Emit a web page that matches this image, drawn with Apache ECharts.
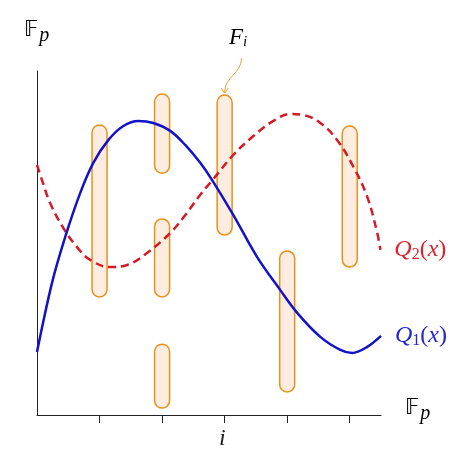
<!DOCTYPE html>
<html><head><meta charset="utf-8">
<script src="https://cdn.jsdelivr.net/npm/echarts@6/dist/echarts.min.js"></script>
<style>html,body{margin:0;padding:0;background:#fff}#c{width:465px;height:459px}</style>
</head><body><div id="c"></div>
<script>
// Q1(x) — blue solid curve
const q1X = [0,0.24,0.45,0.69,0.90,1.14,1.38,1.62,1.86,2.13,2.37,2.61,2.80,3.14,3.52,3.89,4.16,4.53,4.85,5.04,5.28,5.50];
const q1Y = [1.83,3.84,5.17,6.45,7.33,7.99,8.40,8.55,8.49,8.26,7.85,7.33,6.83,5.81,4.59,3.63,2.97,2.27,1.89,1.80,1.98,2.30];
// Q2(x) — red dashed curve
const q2X = [0,0.08,0.21,0.42,0.64,0.85,1.17,1.44,1.76,2.13,2.34,2.61,2.82,3.14,3.46,3.78,4.05,4.26,4.53,4.80,5.06,5.28,5.44,5.49];
const q2Y = [7.27,6.83,6.16,5.44,4.88,4.51,4.30,4.36,4.71,5.29,5.74,6.40,6.86,7.56,8.11,8.55,8.75,8.72,8.49,7.99,7.21,6.34,5.29,4.80];
// F_i — orange capsules
const barX = [1,2,2,2,3,4,5];
const barLow = [3.43,7.03,3.43,0.20,5.23,0.67,4.30];
const barHigh = [8.43,9.33,5.70,2.06,9.30,4.77,8.40];
const tickValues = [1,2,3,4,5];
const annotatedBar = 4; // index of bar pointed by F_i

const chart = echarts.init(document.getElementById('c'));
const serif = 'Liberation Serif';
const option = {
  animation: false,
  grid: {left: 37, right: 84, top: 71, bottom: 44},
  xAxis: {type: 'value', min: 0, max: 5.5, interval: 1,
    axisLine: {show: true, lineStyle: {color: '#222', width: 1}},
    axisTick: {show: true, customValues: tickValues, length: 8, inside: false, lineStyle: {color: '#222', width: 1}},
    axisLabel: {show: false}, splitLine: {show: false}},
  yAxis: {type: 'value', min: 0, max: 10, interval: 1,
    axisLine: {show: true, lineStyle: {color: '#222', width: 1}},
    axisTick: {show: false}, axisLabel: {show: false}, splitLine: {show: false}},
  series: [
    {type: 'custom', z: 1,
      data: barX.map((x, i) => [x, barLow[i], barHigh[i]]),
      encode: {x: 0, y: [1, 2]},
      renderItem(params, api) {
        const x = api.value(0), lo = api.value(1), hi = api.value(2);
        const p1 = api.coord([x, hi]), p2 = api.coord([x, lo]);
        const w = 15;
        return {type: 'rect', shape: {x: p1[0] - w / 2, y: p1[1], width: w, height: p2[1] - p1[1], r: w / 2},
          style: {fill: '#fdece0', stroke: '#e8921c', lineWidth: 1.5}};
      }},
    {type: 'line', z: 3, data: q2X.map((x, i) => [x, q2Y[i]]), showSymbol: false, smooth: 0.4,
      lineStyle: {color: '#d41a26', width: 2.5, type: [8, 5]},
      endLabel: {show: true, offset: [6, 0], formatter: '{q|Q}{s|2}{p|(}{q|x}{p|)}',
        rich: {q: {fontFamily: serif, fontStyle: 'italic', fontSize: 24, color: '#e0202a'},
               s: {fontFamily: serif, fontSize: 16, color: '#e0202a', padding: [9, 0, 0, 0]},
               p: {fontFamily: serif, fontSize: 24, color: '#e0202a'}}}},
    {type: 'line', z: 4, data: q1X.map((x, i) => [x, q1Y[i]]), showSymbol: false, smooth: 0.35,
      lineStyle: {color: '#1212c8', width: 2.5},
      endLabel: {show: true, offset: [6, 0], formatter: '{q|Q}{s|1}{p|(}{q|x}{p|)}',
        rich: {q: {fontFamily: serif, fontStyle: 'italic', fontSize: 24, color: '#2424d0'},
               s: {fontFamily: serif, fontSize: 16, color: '#2424d0', padding: [9, 0, 0, 0]},
               p: {fontFamily: serif, fontSize: 24, color: '#2424d0'}}}}
  ]
};
chart.setOption(option);

const tip = chart.convertToPixel({gridIndex: 0}, [barX[annotatedBar], barHigh[annotatedBar]]);
const fpRich = {f: {fontFamily: 'DejaVu Sans', fontSize: 21, color: '#222'},
  p: {fontFamily: serif, fontStyle: 'italic', fontSize: 20, color: '#222', padding: [10, 0, 0, 1]}};
chart.setOption({graphic: [
  {type: 'text', left: 24, top: 20, style: {text: '{f|𝔽}{p|p}', rich: fpRich}},
  {type: 'text', left: 405, top: 398, style: {text: '{f|𝔽}{p|p}', rich: fpRich}},
  {type: 'text', left: 219, top: 427, style: {text: 'i', fontFamily: serif, fontStyle: 'italic', fontSize: 24, fill: '#222'}},
  {type: 'text', left: 229, top: 26, style: {text: '{f|F}{s|i}',
    rich: {f: {fontFamily: serif, fontStyle: 'italic', fontSize: 23, color: '#e8a030'},
           s: {fontFamily: serif, fontStyle: 'italic', fontSize: 15, color: '#e8a030', padding: [10, 0, 0, 0]}}}},
  {type: 'bezierCurve', shape: {x1: tip[0] + 17, y1: tip[1] - 37, cpx1: tip[0] + 17, cpy1: tip[1] - 22, cpx2: tip[0], cpy2: tip[1] - 18, x2: tip[0], y2: tip[1] - 3},
    style: {stroke: '#e8a030', lineWidth: 1, fill: null}},
  {type: 'polyline', shape: {points: [[tip[0] - 3.5, tip[1] - 7], [tip[0], tip[1] - 2], [tip[0] + 3.5, tip[1] - 7]]},
    style: {stroke: '#e8a030', lineWidth: 1, fill: null}}
]});
</script></body></html>
